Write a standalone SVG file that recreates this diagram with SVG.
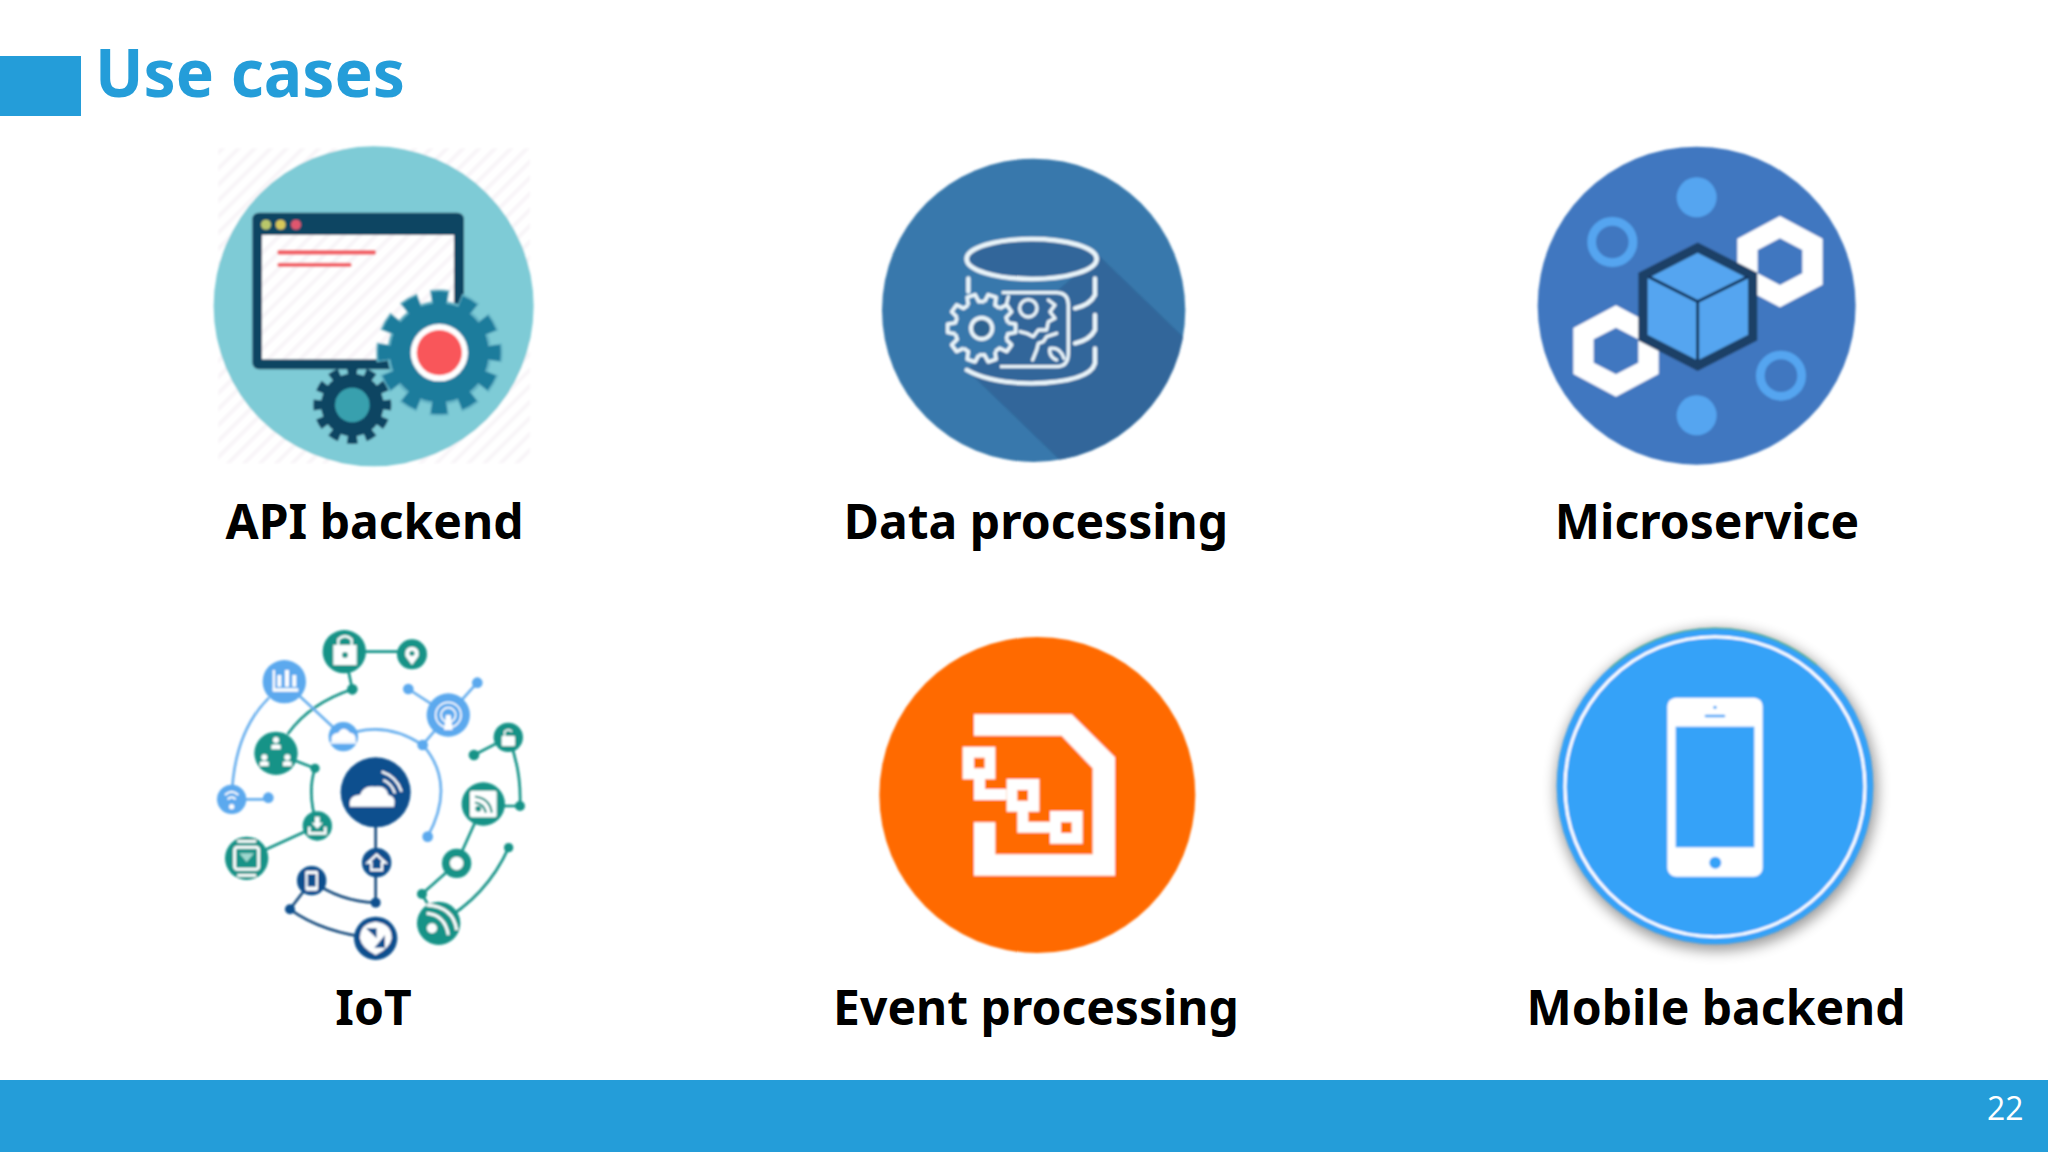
<svg xmlns="http://www.w3.org/2000/svg" width="2048" height="1152" viewBox="0 0 2048 1152">
<defs>
<style>
.lbl{font-family:"Noto Sans","Open Sans",sans-serif;font-weight:700;font-size:48px;fill:#000;text-anchor:middle}
.ttl{font-family:"Noto Sans","Open Sans",sans-serif;font-weight:700;font-size:66px;fill:#249DD9}
.num{font-family:"Open Sans","Noto Sans",sans-serif;font-size:32px;fill:#fff}
.t{fill:#169387}.b{fill:#5BA9EE}.n{fill:#11508E}
.tl,.bl,.nl{fill:none;stroke-width:8;stroke-linecap:round}
.tl{stroke:#169387}.bl{stroke:#6AB0EE}.nl{stroke:#1A4F80}
.w{fill:#fff}
.wl{fill:none;stroke:#EAF5FA;stroke-width:13;stroke-linecap:round}
</style>
<filter id="soft"><feGaussianBlur stdDeviation="2.4"/></filter>
<filter id="shadow" x="-15%" y="-15%" width="130%" height="130%"><feGaussianBlur stdDeviation="20"/></filter>
<pattern id="hatch" width="34" height="34" patternUnits="userSpaceOnUse" patternTransform="rotate(45)"><rect width="34" height="34" fill="#fff"/><rect width="12" height="34" fill="#F8F5F8"/></pattern>
<clipPath id="dataClip"><circle cx="521" cy="511" r="455"/></clipPath>
<path id="dt" d="M-16.600,-78.300L-12.600,-102H12.600L16.600,-78.300A80,80 0 0 1 32.500,-73" fill="#3778AC" stroke="#EAF5FA" stroke-width="11" stroke-linejoin="round"/>
</defs>
<rect width="2048" height="1152" fill="#fff"/>
<rect id="title-mark" x="0" y="56" width="81" height="60" fill="#249DD9"/>
<text id="title" class="ttl" x="95" y="97" textLength="310" lengthAdjust="spacingAndGlyphs">Use cases</text>

<g id="api-backend">
<g transform="translate(190,130) scale(.3333)" filter="url(#soft)">
<rect x="85" y="55" width="935" height="945" fill="url(#hatch)"/>
<circle cx="551" cy="529" r="480" fill="#7ECBD6"/>
<rect x="187" y="248" width="635" height="470" rx="20" fill="#0D4462"/>
<rect x="216" y="315" width="576" height="373" fill="url(#hatch)"/>
<circle cx="228" cy="284" r="15" fill="#B9C76B"/><circle cx="272" cy="284" r="15" fill="#D8C85A"/><circle cx="318" cy="284" r="15" fill="#E0566E"/>
<rect x="262" y="360" width="296" height="14" rx="6" fill="#F2656B"/><rect x="262" y="398" width="223" height="13" rx="6" fill="#F2656B"/>
<circle cx="748" cy="668" r="163" fill="none" stroke="#63B4C6" stroke-width="54" pathLength="24" stroke-dasharray="1.2 .8" stroke-dashoffset=".6"/>
<circle cx="748" cy="668" r="152" fill="#1C7B9C" stroke="#63B4C6" stroke-width="8"/>
<circle cx="748" cy="668" r="161" fill="none" stroke="#1C7B9C" stroke-width="46" pathLength="24" stroke-dasharray="1.05 .95" stroke-dashoffset=".525"/>
<circle cx="748" cy="668" r="86" fill="#fff"/><circle cx="748" cy="668" r="68" fill="#F9565A"/>
<circle cx="487" cy="825" r="100" fill="#7ECBD6"/>
<circle cx="487" cy="825" r="102" fill="none" stroke="#0D4462" stroke-width="30" pathLength="24" stroke-dasharray="1.1 .9" stroke-dashoffset=".55"/>
<circle cx="487" cy="825" r="94" fill="#0D4462"/>
<circle cx="487" cy="825" r="52" fill="#37A0AE"/>
</g>
<text class="lbl" x="374.500" y="539">API backend</text>
</g>

<g id="data-processing">
<g transform="translate(860,140) scale(.3333)" filter="url(#soft)">
<circle cx="521" cy="511" r="455" fill="#3778AC"/>
<polygon clip-path="url(#dataClip)" points="715,345 1000,620 1000,1000 640,1000 320,690" fill="#30669A"/>
<ellipse cx="515" cy="357" rx="195" ry="60" fill="#30669A" stroke="#EAF5FA" stroke-width="14"/>
<path class="wl" d="M325,415V455M705,415V465Q690,495 645,505M705,525V570Q690,600 645,610M705,625V670Q690,725 515,730Q390,730 320,690"/>
<path d="M425,458H590Q625,458 625,495V640Q625,680 590,680H420" fill="#30669A" stroke="#EAF5FA" stroke-width="10"/>
<circle cx="365" cy="565" r="85" fill="#3778AC"/>
<use href="#dt" transform="translate(365,565) rotate(18)"/><use href="#dt" transform="translate(365,565) rotate(54)"/><use href="#dt" transform="translate(365,565) rotate(90)"/><use href="#dt" transform="translate(365,565) rotate(126)"/><use href="#dt" transform="translate(365,565) rotate(162)"/><use href="#dt" transform="translate(365,565) rotate(198)"/><use href="#dt" transform="translate(365,565) rotate(234)"/><use href="#dt" transform="translate(365,565) rotate(270)"/><use href="#dt" transform="translate(365,565) rotate(306)"/><use href="#dt" transform="translate(365,565) rotate(342)"/>
<circle cx="365" cy="565" r="74" fill="#3778AC"/>
<circle cx="365" cy="565" r="32" fill="#2F6491" stroke="#EAF5FA" stroke-width="12"/>
<circle cx="505" cy="505" r="26" fill="none" stroke="#EAF5FA" stroke-width="10"/>
<path d="M565,480L585,495L570,515L585,535L565,545L560,570L535,570L520,590L500,580L480,575M445,470L440,490M590,580L560,590L550,605L535,610L530,630L518,660M590,660Q565,650 570,625Q600,620 612,655" fill="none" stroke="#EAF5FA" stroke-width="10" stroke-linecap="round" stroke-linejoin="round"/>
</g>
<text class="lbl" x="1036" y="539">Data processing</text>
</g>

<g id="microservice">
<g transform="translate(1520,130) scale(.3333)" filter="url(#soft)">
<circle cx="530" cy="527" r="477" fill="#4077C0"/>
<circle cx="530" cy="202" r="60" fill="#55A5F0"/><circle cx="530" cy="856" r="60" fill="#55A5F0"/>
<circle cx="277" cy="336" r="62" fill="none" stroke="#55A5F0" stroke-width="26"/><circle cx="783" cy="737" r="62" fill="none" stroke="#55A5F0" stroke-width="26"/>
<path fill="#fff" fill-rule="evenodd" d="M780,258L908,326V464L780,532L652,464V326ZM780,325L713,360V430L780,465L847,430V360Z"/>
<path fill="#fff" fill-rule="evenodd" d="M288,526L416,594V732L288,800L160,732V594ZM288,593L221,628V698L288,733L355,698V628Z"/>
<path fill="#55A5F0" stroke="#1F3F66" stroke-width="28" stroke-linejoin="miter" d="M533,353L698,437V623L533,707L369,623V437Z"/>
<path fill="none" stroke="#12365C" stroke-width="9" d="M385,440L533,515L685,440M533,515V692"/>
</g>
<text class="lbl" x="1707" y="539">Microservice</text>
</g>

<g id="iot">
<g transform="translate(200,620) scale(.3333)" filter="url(#soft)">
<path class="tl" d="M433,95H636M457,208L433,95M457,208Q330,250 265,340M228,400L345,445Q320,520 352,618L140,715M925,352L822,405M925,352Q965,450 960,558H850M850,552L770,730L666,822L716,910Q860,830 926,683"/>
<path class="bl" d="M205,235Q100,340 95,538H205M253,185L430,350M470,335Q570,310 668,375Q770,490 683,650M625,207L745,285L832,188M745,285L668,375"/>
<path class="nl" d="M527,517V848M335,782Q420,845 527,848M335,782L270,868Q370,940 527,955"/>
<circle class="t" cx="433" cy="95" r="65"/><circle class="t" cx="636" cy="103" r="45"/><circle class="t" cx="457" cy="208" r="16"/><circle class="t" cx="228" cy="400" r="65"/><circle class="t" cx="345" cy="445" r="14"/><circle class="t" cx="352" cy="618" r="44"/><circle class="t" cx="140" cy="715" r="65"/><circle class="t" cx="850" cy="552" r="65"/><circle class="t" cx="960" cy="558" r="15"/><circle class="t" cx="925" cy="352" r="44"/><circle class="t" cx="822" cy="405" r="16"/><circle class="t" cx="770" cy="730" r="44"/><circle class="t" cx="666" cy="822" r="15"/><circle class="t" cx="716" cy="910" r="65"/><circle class="t" cx="926" cy="683" r="14"/>
<circle class="b" cx="253" cy="185" r="65"/><circle class="b" cx="430" cy="350" r="44"/><circle class="b" cx="95" cy="538" r="44"/><circle class="b" cx="205" cy="533" r="16"/><circle class="b" cx="745" cy="285" r="65"/><circle class="b" cx="625" cy="207" r="16"/><circle class="b" cx="832" cy="188" r="16"/><circle class="b" cx="668" cy="375" r="16"/><circle class="b" cx="683" cy="650" r="16"/>
<circle class="n" cx="527" cy="517" r="105"/><circle class="n" cx="530" cy="728" r="44"/><circle class="n" cx="335" cy="782" r="44"/><circle class="n" cx="527" cy="848" r="15"/><circle class="n" cx="270" cy="868" r="15"/><circle class="n" cx="527" cy="955" r="65"/>
<path class="w" d="M450,560Q445,525 480,525Q490,495 525,500Q560,495 565,525Q590,530 582,560Z"/>
<path d="M545,455Q590,470 605,515M550,480Q575,490 585,520" fill="none" stroke="#fff" stroke-width="7"/>
<path class="w" d="M400,75H470V135H400Z"/><path d="M415,75V58Q435,40 455,58V75" fill="none" stroke="#fff" stroke-width="7"/><circle class="t" cx="435" cy="105" r="9"/>
<path class="w" d="M636,80Q660,82 656,108L636,135L616,108Q612,82 636,80Z"/><circle class="t" cx="636" cy="100" r="8"/>
<path class="w" d="M218,205H295V215H218ZM232,165h12v35h-12ZM255,150h12v50h-12ZM277,165h12v35h-12Z"/><rect class="w" x="218" y="150" width="7" height="60"/>
<circle class="w" cx="228" cy="360" r="9"/><circle class="w" cx="193" cy="412" r="9"/><circle class="w" cx="262" cy="412" r="9"/><path class="w" d="M214,388h28v-12q-14,-6 -28,0ZM180,438h26v-12q-13,-6 -26,0ZM249,438h26v-12q-13,-6 -26,0Z"/>
<path class="w" d="M395,365Q390,340 415,338Q430,315 450,338Q470,340 467,365Z"/><path d="M392,368H468" stroke="#fff" stroke-width="6"/>
<path d="M75,525Q95,505 115,525M83,538Q95,525 107,538" fill="none" stroke="#fff" stroke-width="6"/><circle class="w" cx="95" cy="560" r="8"/>
<path d="M328,620V640H376V620" fill="none" stroke="#fff" stroke-width="8"/><path class="w" d="M345,590h14v18h10l-17,18l-17,-18h10Z"/>
<rect x="104" y="682" width="72" height="66" rx="8" fill="#169387" stroke="#fff" stroke-width="9"/><path d="M118,700h44l-22,26Z" fill="#9FD8CF"/><path d="M112,664h56M112,766h56" stroke="#fff" stroke-width="8"/>
<rect class="w" x="810" y="512" width="80" height="80" rx="6"/><path d="M825,530Q870,535 875,578M825,548Q850,550 858,578" fill="none" stroke="#169387" stroke-width="7"/><circle class="t" cx="835" cy="566" r="9"/>
<rect class="w" x="905" y="348" width="40" height="30" rx="3"/><path d="M914,348V335Q925,325 936,335" fill="none" stroke="#fff" stroke-width="5"/>
<circle class="w" cx="770" cy="730" r="20"/>
<circle class="w" cx="696" cy="925" r="15"/><path d="M680,880Q735,885 745,945M680,855Q760,860 770,930" fill="none" stroke="#fff" stroke-width="9"/>
<circle cx="745" cy="285" r="38" fill="none" stroke="#fff" stroke-width="5"/><circle cx="745" cy="285" r="22" fill="none" stroke="#fff" stroke-width="5"/><path class="w" d="M738,285h14l6,45h-26Z"/>
<path d="M530,704L556,728H546V750H514V728H504Z" fill="none" stroke="#fff" stroke-width="7"/>
<rect class="w" x="316" y="752" width="38" height="60" rx="5"/><rect class="n" x="323" y="762" width="24" height="38"/>
<path class="w" d="M527,905Q575,910 575,955Q570,985 527,1005Q485,985 480,955Q480,910 527,905Z"/><path class="n" d="M498,925h32v30ZM555,945v38h-32Z"/>
</g>
<text class="lbl" x="373.500" y="1025">IoT</text>
</g>

<g id="event-processing">
<g transform="translate(860,625) scale(.3333)" filter="url(#soft)">
<circle cx="532" cy="510" r="474" fill="#FF6A00"/>
<path class="w" d="M342,268H635L765,397V752H342V592H406V688H698V430L605,332H342Z"/>
<path class="w" fill-rule="evenodd" d="M308,365h98v98h-98ZM342,398v32h32v-32Z"/>
<path class="w" d="M342,460V525H440V492H375V460Z"/>
<path class="w" fill-rule="evenodd" d="M440,462h98v98h-98ZM472,495v32h32v-32Z"/>
<path class="w" d="M472,558V623H570V590H505V558Z"/>
<path class="w" fill-rule="evenodd" d="M570,558h98v98h-98ZM603,592v32h32v-32Z"/>
</g>
<text class="lbl" x="1036" y="1025">Event processing</text>
</g>

<g id="mobile-backend">
<g transform="translate(1540,615) scale(.3333)">
<circle cx="530" cy="525" r="482" fill="#000" opacity=".4" filter="url(#shadow)"/>
<g filter="url(#soft)">
<circle cx="525" cy="513" r="475" fill="#35A2F8"/>
<path d="M210,160A475,475 0 0 1 830,150" fill="none" stroke="#5FB86A" stroke-width="5" opacity=".6"/>
<circle cx="525" cy="515" r="450" fill="none" stroke="#fff" stroke-width="9"/>
<rect x="382" y="248" width="286" height="537" rx="26" fill="#fff"/>
<rect x="407" y="335" width="236" height="362" fill="#35A2F8"/>
<circle cx="526" cy="743" r="18" fill="#35A2F8"/><rect x="494" y="299" width="62" height="8" rx="4" fill="#35A2F8"/><circle cx="525" cy="277" r="5" fill="#35A2F8"/>
</g>
</g>
<text class="lbl" x="1716" y="1025">Mobile backend</text>
</g>

<rect id="footer" x="0" y="1080" width="2048" height="72" fill="#249DD9"/>
<text id="page-number" class="num" x="1987" y="1120">22</text>
</svg>
